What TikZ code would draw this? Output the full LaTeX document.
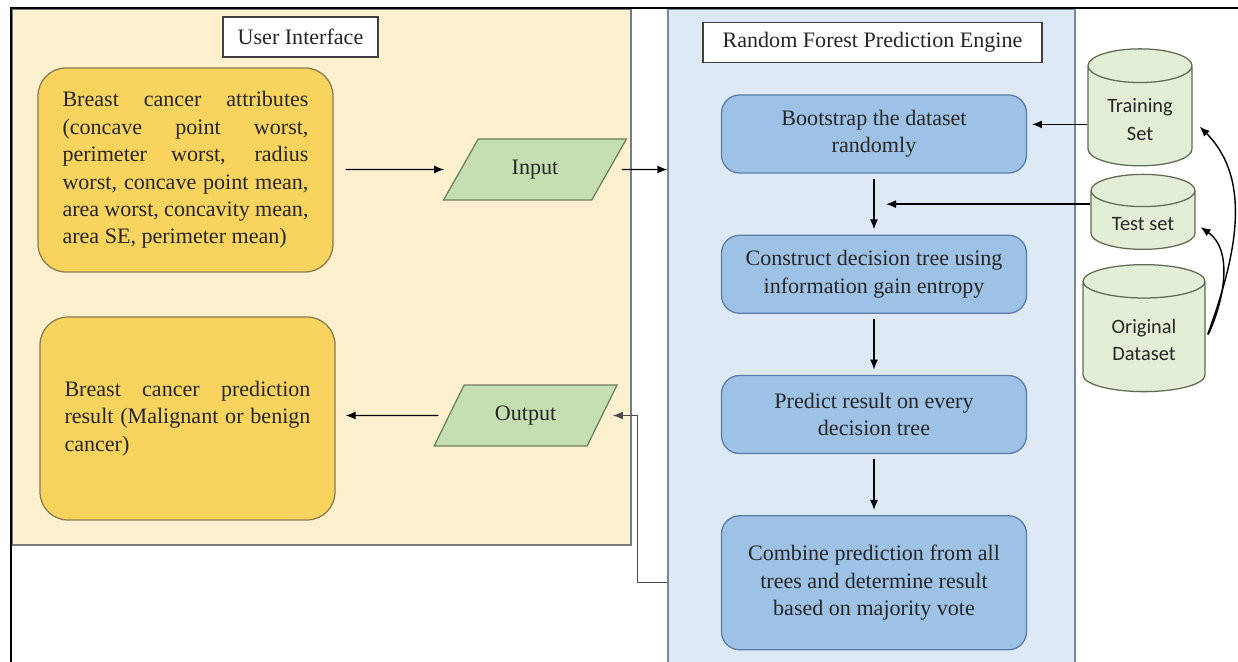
\documentclass[tikz,border=0pt]{standalone}
\usepackage{fontspec}
\setmainfont{Liberation Serif}
\newfontfamily\cylfont{Carlito}
\usepackage{xcolor}
\usepackage{tikz}
\usetikzlibrary{arrows.meta,positioning,shapes.geometric,calc}

\definecolor{uifill}{HTML}{FCF0CF}
\definecolor{uiline}{HTML}{7A7A7A}
\definecolor{engfill}{HTML}{DEE9F6}
\definecolor{engline}{HTML}{7A8699}
\definecolor{gold}{HTML}{F8D45F}
\definecolor{goldline}{HTML}{8A7A50}
\definecolor{iofill}{HTML}{C5DEB2}
\definecolor{ioline}{HTML}{6E7E60}
\definecolor{stepfill}{HTML}{9DC2E6}
\definecolor{stepline}{HTML}{5A7CA8}
\definecolor{dbfill}{HTML}{E2EED6}
\definecolor{dbline}{HTML}{606A55}

% one stretched line of a justified paragraph
\newcommand{\jline}[1]{\makebox[6.15cm][s]{#1}}

\begin{document}
\begin{tikzpicture}[
node distance=1.525cm,
txt/.style={font=\fontsize{15.7}{19.5}\selectfont, text=black!85},
panel/.style={draw=#1, line width=0.9pt, inner sep=0pt},
tag/.style={txt, draw=black!75, fill=white, line width=0.8pt, minimum height=1cm},
attrbox/.style={txt, draw=goldline, fill=gold, rounded corners=0.7cm, line width=0.9pt, minimum width=7.375cm, text width=6.15cm, align=justify},
io/.style={txt, trapezium, trapezium left angle=59, trapezium right angle=121, trapezium stretches=true, draw=ioline, fill=iofill, line width=0.9pt, minimum width=4.6cm, minimum height=1.525cm},
stepbox/.style={txt, draw=stepline, fill=stepfill, rounded corners=0.45cm, line width=0.9pt, minimum width=7.625cm, minimum height=1.95cm, align=center},
db/.style={cylinder, shape border rotate=90, aspect=0.45, draw=dbline, fill=dbfill, line width=0.9pt, font=\cylfont\fontsize{14.5}{19.5}\selectfont, align=center, text=black!85},
arr/.style={-{Latex[length=2.5mm,width=2mm]}, line width=1pt}
]
\useasboundingbox (0,0) rectangle (30.95,16.55);

% the two panels
\node[panel=uiline, fill=uifill, minimum width=15.475cm, minimum height=13.4cm] (ui) at (8.0375,9.625) {};
\node[panel=engline, fill=engfill, minimum width=10.175cm, minimum height=17.325cm] (eng) at (21.7875,7.6625) {};
\node[tag, minimum width=3.875cm] (uitag) at (7.5125,15.625) {User Interface};
\node[tag, minimum width=8.475cm] (engtag) at (21.8125,15.4875) {Random Forest Prediction Engine};

% user side
\node[attrbox, minimum height=5.1cm] (attr) at (4.6375,12.3) {%
\jline{Breast cancer attributes}\\
\jline{(concave point worst,}\\
\jline{perimeter worst, radius}\\
\jline{worst, concave point mean,}\\
\jline{area worst, concavity mean,}\\
area SE, perimeter mean)};
\node[attrbox, minimum height=5.075cm] (res) at (4.6875,6.0875) {%
\jline{Breast cancer prediction}\\
\jline{result (Malignant or benign}\\
cancer)};
\node[io] (inp) at (13.375,12.3125) {Input};
\node[io] (outp) at (13.14,6.1625) {Output};

% engine steps
\node[stepbox] (boot) at (21.85,13.2) {Bootstrap the dataset\\randomly};
\node[stepbox, below=of boot] (cons) {Construct decision tree using\\information gain entropy};
\node[stepbox, below=of cons] (pred) {Predict result on every\\decision tree};
\node[stepbox, below=of pred, minimum height=3.35cm] (comb) {Combine prediction from all\\trees and determine result\\based on majority vote};

% data stores
\node[db, minimum width=2.6cm, minimum height=2.925cm] (train) at (28.5,13.56) {Training\\Set};
\node[db, minimum width=2.6cm, minimum height=1.875cm] (test) at (28.575,10.96) {Test set};
\node[db, minimum width=3.05cm, minimum height=3.175cm] (orig) at (28.6,8.05) {Original\\Dataset};

\coordinate (mid) at ($(boot.south)!0.5!(cons.north)$);
\coordinate (trainout) at ([yshift=-0.12cm]train.west);

\draw[arr, shorten <=0.3cm, shorten >=0.4cm] (attr.east |- inp) -- (inp);
\draw[arr, shorten <=0.3cm] (inp) -- (inp -| eng.west);
\draw[arr, shorten >=0.12cm] (trainout) -- (trainout -| boot.east);
\draw[arr] (test.west |- mid) -- ([xshift=0.3cm]mid);
\draw[arr, shorten <=0.13cm, shorten >=0.13cm] (boot) -- (cons);
\draw[arr, shorten <=0.13cm, shorten >=0.13cm] (cons) -- (pred);
\draw[arr, shorten <=0.13cm, shorten >=0.13cm] (pred) -- (comb);
\draw[arr, shorten <=0.15cm, shorten >=0.25cm] (orig.east) to[out=70, in=-45] (train.east);
\draw[arr, shorten <=0.15cm, shorten >=0.15cm] (orig.east) to[out=65, in=-35] (test.east);
\draw[arr, black!70, shorten >=0.25cm] (eng.west |- comb) -- ++(-0.75,0) |- (outp.east);
\draw[arr, shorten <=0.25cm, shorten >=0.25cm] (outp) -- (outp -| res.east);

% page frame
\draw[line width=1.4pt] (0.275,-0.5) |- (31.5,16.35);
\end{tikzpicture}
\end{document}
